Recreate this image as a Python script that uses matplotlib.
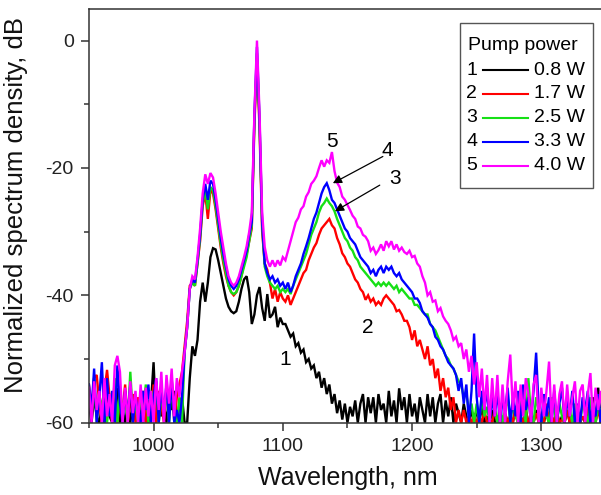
import numpy as np
import matplotlib
matplotlib.use("Agg")
import matplotlib.pyplot as plt
from matplotlib.lines import Line2D
from matplotlib.patches import Rectangle

plt.rcParams['font.family'] = ['Liberation Sans', 'DejaVu Sans']
plt.rcParams['axes.unicode_minus'] = False

# wavelength grid, nm (2 nm step)
wl = np.arange(950, 1351, 2)

# spectra, dB (rows of 10 points = 20 nm)
db1 = [  # 0.8 W
    -57, -60, -56, -59, -60, -57.5, -60, -56, -59, -60,          # 950
    -57, -54.5, -60, -58, -60, -57, -60, -56.5, -59, -60,        # 970
    -58, -60, -56, -60, -57, -50.5, -60, -56, -59, -57,          # 990
    -60, -56, -58, -55, -60, -57, -56, -60, -60, -53,            # 1010
    -48, -49.5, -47, -41, -38, -41, -38, -34, -32.6, -32.8,      # 1030
    -34.5, -36.5, -38.5, -40.5, -41.8, -42.5, -42.8, -42.5, -41, -39,  # 1050
    -37.5, -37, -39.5, -44.5, -43, -40, -38.7, -42, -44, -39.8,  # 1070
    -43.5, -43, -41.8, -45, -43.5, -44.5, -44.5, -45.5, -46.5, -46,    # 1090
    -48, -47.5, -49, -48.5, -50.5, -50, -51.5, -51, -53, -52,    # 1110
    -54.5, -53, -55.5, -54, -57, -55.5, -58.5, -56.5, -59.5, -57,  # 1130
    -60, -57.5, -59, -56.5, -60, -57, -55.5, -60, -56, -58.5,    # 1150
    -56, -60, -55.5, -58, -57, -60, -55, -59, -56.5, -60,        # 1170
    -54.6, -58, -56, -60, -55.5, -59, -57, -60, -56, -58,        # 1190
    -60, -55.5, -59, -56, -60, -57, -55.5, -60, -56.5, -59,      # 1210
    -56, -60, -57, -58.5, -60, -57, -59, -60, -58, -60,          # 1230
    -58, -60, -57.5, -60, -59, -60, -58, -60, -59, -60,          # 1250
    -60, -58.5, -60, -59, -60, -57.5, -60, -59, -60, -58,        # 1270
    -60, -59, -60, -58, -60, -59.5, -60, -58, -60, -59,          # 1290
    -60, -58.5, -60, -59, -60, -58, -60, -59, -60, -58,          # 1310
    -60, -59, -60, -58, -60, -56, -60, -54.5, -60, -59,          # 1330
    -60,
]
db2 = [  # 1.7 W
    -54, -58, -53, -52.5, -57, -60, -55, -51.7, -56, -60,
    -55, -60, -56, -58, -54, -60, -57, -55.5, -60, -56,
    -58, -55, -60, -56.5, -58, -54, -60, -55, -57, -60,
    -55, -58, -53, -60, -56, -54, -52, -48, -44, -38.5,
    -38, -38.5, -35, -31.5, -26, -24, -28, -23.5, -24, -26.5,
    -29.5, -32.5, -35, -37, -38.5, -39.5, -40, -39.5, -38.5, -37,
    -35, -33.5, -31.5, -29.5, -13.5, -3, -14, -30, -35, -36,
    -38, -40.5, -39, -41, -39.5, -40.5, -41, -40, -41.5, -40.5,
    -39.5, -38.5, -37.5, -36.5, -36, -34.5, -33.5, -32.5, -31.8, -30.5,
    -29.5, -29, -28.5, -28, -29, -29.5, -31, -32, -33.4, -34,
    -35, -35.5, -36.5, -37.5, -38, -39, -39.5, -40.7, -40, -41,
    -40.5, -41.5, -41, -41.5, -40.5, -40, -40.5, -41, -41.5, -42.5,
    -42.3, -43, -44, -44, -45, -47, -45.5, -48, -47, -48.5,
    -50, -48, -51, -50, -53, -51.5, -55, -53, -56, -54.5,
    -58, -56, -60, -58, -60, -58, -60, -59, -60, -58.5,
    -60, -59, -60, -58, -60, -59.5, -60, -58, -60, -59,
    -60, -58.5, -60, -59, -60, -57.5, -60, -59, -60, -58,
    -60, -59, -60, -58.5, -60, -59, -60, -57, -60, -59,
    -60, -58, -60, -59.5, -60, -58, -60, -59, -60, -58.5,
    -60, -59, -60, -57.5, -60, -59, -60, -58, -60, -59,
    -60,
]
db3 = [  # 2.5 W
    -55, -59, -53, -60, -55.5, -58, -54, -60, -56, -59,
    -53, -60, -55, -58, -56.5, -60, -52, -59, -57, -60,
    -56, -58, -54, -60, -55, -57, -53.5, -60, -56, -58,
    -55, -60, -54, -58, -60, -56, -60, -49, -45, -39,
    -38, -38.5, -35, -31, -25.5, -23.5, -26.5, -23, -23.5, -26,
    -29, -32, -34.5, -36.5, -38.5, -39.5, -39.8, -39.5, -38.5, -37,
    -35.5, -34, -31.5, -29, -12.5, -2, -13, -29, -35.5, -37,
    -38, -38.5, -39, -38.5, -39.5, -39, -39.5, -39, -39.8, -38.5,
    -37.5, -36.5, -35.5, -34.5, -33.5, -32, -30.5, -29.5, -28.5, -27,
    -26, -25.5, -24.8, -25.5, -26, -26.8, -28, -29, -30, -31,
    -31.5, -32.5, -33, -34, -34.5, -35.5, -36, -36.5, -37, -37.5,
    -38, -38.5, -38, -38.5, -38, -38.5, -38, -38.5, -39, -38.5,
    -39.5, -39, -39.5, -40, -40.5, -40.5, -41.5, -41.5, -42, -42.5,
    -43, -43, -44.5, -45, -45.5, -46.5, -47.5, -48.5, -49.5, -50,
    -51, -51.5, -52.5, -53.5, -54, -56, -55.5, -58, -57, -60,
    -57, -60, -56, -59, -57.5, -60, -55.5, -58, -60, -57,
    -60, -58, -56, -60, -57, -59, -60, -56.5, -58, -60,
    -53, -59, -60, -56, -58, -60, -57.5, -59, -60, -56,
    -58, -60, -57, -59, -60, -56.5, -58, -60, -57, -59,
    -60, -57, -58.5, -60, -56, -59, -60, -57.5, -58, -60,
    -57,
]
db4 = [  # 3.3 W
    -54, -58, -51.5, -60, -56, -50.5, -60, -53, -59, -55,
    -60, -51, -57, -60, -55, -59, -54, -60, -56, -58,
    -60, -55, -58, -54, -60, -56, -53, -60, -55, -58,
    -54, -60, -53, -60, -58, -60, -56, -49, -45, -39,
    -37.5, -38, -34.5, -30.5, -25, -22.5, -25, -22, -22.5, -25,
    -28, -31, -33.5, -35.5, -37.5, -38.5, -39, -38.5, -37.5, -36,
    -34.5, -33, -30.5, -28.5, -12, -1, -12.5, -28.5, -35, -36.5,
    -37.5, -37, -38, -37.5, -38.5, -38, -39, -38, -39.5, -38.5,
    -37, -36, -35, -33.5, -32.3, -31, -29.5, -28, -27, -25.5,
    -24, -23, -22.4, -23.5, -25, -25.5, -26.5, -27.5, -28.5, -29.5,
    -30, -31, -31.5, -32, -33, -34, -34.5, -35, -35.5, -36.5,
    -36, -37, -36, -35.5, -36.5, -35.5, -36, -35.5, -36.5, -37,
    -36.5, -37.5, -38, -38.5, -39, -39.5, -40.5, -40.5, -41.2, -42.5,
    -43, -43.5, -44.5, -45, -46.5, -47, -48, -48.5, -49.5, -50.5,
    -51, -51.5, -52.5, -55, -53, -57, -54, -60, -55, -46,
    -56, -60, -55, -58, -54.5, -60, -56, -59, -55, -60,
    -56.5, -58, -54.5, -60, -56, -59, -55, -60, -54, -58,
    -56, -60, -55, -49, -58, -60, -55.5, -59, -56, -60,
    -55, -60, -57, -54.5, -60, -56, -59, -55, -60, -57,
    -60, -56, -58, -55, -60, -57, -59, -55.5, -60, -56,
    -58,
]
db5 = [  # 4.0 W
    -54.5, -60, -53.5, -58, -55, -60, -53, -59, -55.5, -60,
    -51, -49.5, -52, -60, -54.5, -60, -53.5, -58.5, -55, -60,
    -54, -60, -54.5, -59, -55, -60, -53, -58, -52, -60,
    -52.5, -57, -51.5, -59, -53, -56, -52, -49, -45, -39,
    -37, -37.5, -34, -29.5, -24, -21, -22.5, -20.8, -21.5, -24,
    -27, -30, -32.5, -35, -37, -38, -38.5, -38, -37, -35.5,
    -34, -32.3, -30, -27, -11.5, 0, -11.5, -27, -32.4, -34.5,
    -35.5, -34.5, -35.5, -34.5, -35.3, -34, -34.5, -33, -31.5, -30,
    -28.5, -27.8, -26.5, -26, -24.5, -23.8, -22.5, -22, -21.3, -20,
    -18.8, -19.8, -18.8, -19.2, -17.5, -20.5, -22.3, -23, -24.5, -25,
    -25.8, -26.6, -27.5, -28, -29.2, -29.5, -30.5, -30.8, -31.5, -33,
    -32.5, -33.5, -32.9, -32, -33, -31.5, -32.3, -31.5, -32.8, -32,
    -33, -32.5, -33.2, -33.5, -33, -34, -33.8, -35, -35.5, -37,
    -38, -40, -39.5, -41, -40.8, -42.5, -42, -43.3, -44, -44.5,
    -45.5, -47, -46.5, -48, -47.5, -50, -48.5, -52, -49.5, -54,
    -50.5, -56, -51.5, -58, -52.5, -60, -53, -59, -52.5, -60,
    -54, -60, -53.5, -49.3, -58, -53.5, -60, -54, -59, -53,
    -55.5, -60, -54, -52.5, -60, -54.5, -59, -55, -50.4, -60,
    -54, -60, -55.5, -53.5, -60, -54, -59, -56, -53.5, -60,
    -55, -54, -60, -55.5, -52.2, -60, -54.5, -58, -55, -60,
    -54,
]

series = [db1, db2, db3, db4, db5]
numbers = ['1', '2', '3', '4', '5']
powers = ['0.8 W', '1.7 W', '2.5 W', '3.3 W', '4.0 W']
colors = ['#000000', '#ff0000', '#16e016', '#0000ff', '#ff00ff']

fig = plt.figure(figsize=(6.01, 4.95), dpi=100)
ax = fig.add_axes([0.148, 0.146, 0.8602, 0.8364])

for ys, c in zip(series, colors):
    ax.plot(wl, ys, color=c, lw=1.7, solid_joinstyle='miter')

ax.set_xlim(950, 1350)
ax.set_ylim(-60, 5)
ax.set_xticks([1000, 1100, 1200, 1300])
ax.set_xticks(np.arange(950, 1351, 50), minor=True)
ax.set_yticks([-60, -40, -20, 0])
ax.set_yticks([-50, -30, -10], minor=True)
ax.tick_params(which='major', direction='out', length=6, width=1.1,
               labelsize=14, pad=5, color='#333333', labelcolor='#222222')
ax.tick_params(which='minor', direction='out', length=3.5, width=1.1,
               color='#333333')
for s in ax.spines.values():
    s.set_color('#333333')
    s.set_linewidth(1.1)

ax.set_xlabel('Wavelength, nm', fontsize=18, color='#111111', labelpad=8)
ax.set_ylabel('Normalized spectrum density, dB', fontsize=18.5,
              color='#111111')
ax.yaxis.set_label_coords(-0.117, 0.525)

# curve labels and arrows
ax.text(1137.7, -15.9, '5', fontsize=15, ha='center', va='center')
ax.text(1181.2, -17.2, '4', fontsize=15, ha='center', va='center')
ax.text(1186.7, -21.6, '3', fontsize=15, ha='center', va='center')
ax.text(1165.8, -45.1, '2', fontsize=15, ha='center', va='center')
ax.text(1101.6, -50.1, '1', fontsize=15, ha='center', va='center')
arrow = dict(arrowstyle='-|>', color='k', lw=0.9, mutation_scale=13,
             shrinkA=0, shrinkB=0)
ax.annotate('', xy=(1138.7, -22.4), xytext=(1177.4, -18.2), arrowprops=arrow)
ax.annotate('', xy=(1140.3, -26.8), xytext=(1175, -22.7), arrowprops=arrow)

# legend box drawn by hand (number, line, value)
ax.add_patch(Rectangle((0.7176, 0.5669), 0.2573, 0.3986, transform=ax.transAxes,
                       fill=True, facecolor='white', edgecolor='#555555',
                       lw=1.0, zorder=5))
ax.text(0.7336, 0.9123, 'Pump power', transform=ax.transAxes, fontsize=14,
        va='center', ha='left', zorder=6)
row_y = [0.8519, 0.7940, 0.7367, 0.6787, 0.6208]
for yy, n, p, c in zip(row_y, numbers, powers, colors):
    ax.text(0.7402, yy, n, transform=ax.transAxes, fontsize=14,
            va='center', ha='center', zorder=6)
    ax.add_line(Line2D([0.7615, 0.8497], [yy, yy], transform=ax.transAxes,
                       color=c, lw=1.5, zorder=6))
    ax.text(0.8603, yy, p, transform=ax.transAxes, fontsize=14,
            va='center', ha='left', zorder=6)

fig.savefig('out.png', dpi=100)
